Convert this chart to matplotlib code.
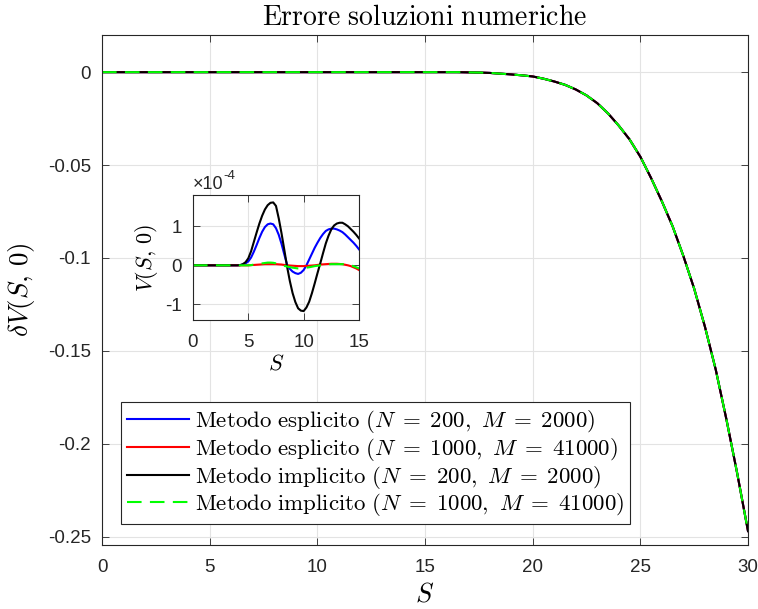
import matplotlib
matplotlib.use("Agg")
import matplotlib.pyplot as plt

plt.rcParams['font.family'] = ['Liberation Sans', 'DejaVu Sans']
plt.rcParams['mathtext.fontset'] = 'cm'
plt.rcParams['axes.unicode_minus'] = False

# main curve (all four methods coincide at this scale)
S_main = [0, 16.5, 17, 17.5, 18, 18.5, 19, 19.5, 20, 20.5, 21, 21.5, 22, 22.5,
          23, 23.5, 24, 24.5, 25, 25.5, 26, 26.5, 27, 27.5, 28, 28.5, 29, 29.5, 30]
dV_main = [0, 0, -0.0001, -0.0002, -0.0004, -0.0008, -0.0012, -0.0017, -0.0023,
           -0.0035, -0.005, -0.0068, -0.0093, -0.0125, -0.0167, -0.0222, -0.0288,
           -0.0362, -0.0455, -0.057, -0.0695, -0.083, -0.099, -0.1165, -0.137,
           -0.16, -0.187, -0.216, -0.247]

# inset: zoom on S in [0, 15], values in units of 1e-4
S_ins = [0, 4, 4.25, 4.5, 4.75, 5, 5.25, 5.5, 5.75, 6, 6.25, 6.5, 6.75, 7, 7.25,
         7.5, 7.75, 8, 8.25, 8.5, 8.75, 9, 9.25, 9.5, 9.75, 10, 10.25, 10.5,
         10.75, 11, 11.25, 11.5, 11.75, 12, 12.25, 12.5, 12.75, 13, 13.25, 13.5,
         13.75, 14, 14.25, 14.5, 14.75, 15]
esp_200 = [0, 0, 0.005, 0.02, 0.05, 0.1, 0.2, 0.35, 0.52, 0.7, 0.86, 0.98, 1.05,
           1.07, 1.05, 0.95, 0.78, 0.55, 0.28, 0.02, -0.09, -0.16, -0.2, -0.22,
           -0.19, -0.12, 0.0, 0.15, 0.3, 0.45, 0.58, 0.7, 0.8, 0.88, 0.92, 0.94,
           0.94, 0.92, 0.89, 0.85, 0.79, 0.72, 0.65, 0.58, 0.5, 0.41]
esp_1000 = [0, 0, 0, 0, 0, 0, 0.005, 0.01, 0.015, 0.02, 0.025, 0.03, 0.03, 0.03,
            0.03, 0.03, 0.025, 0.02, 0.01, 0.0, -0.005, -0.01, -0.015, -0.02,
            -0.02, -0.02, -0.015, -0.01, -0.005, 0.0, 0.01, 0.02, 0.025, 0.03,
            0.035, 0.04, 0.04, 0.04, 0.035, 0.03, 0.015, 0.0, -0.02, -0.05,
            -0.08, -0.12]
imp_200 = [0, 0, 0.005, 0.03, 0.08, 0.18, 0.36, 0.6, 0.84, 1.07, 1.27, 1.43, 1.54,
           1.6, 1.61, 1.52, 1.2, 0.82, 0.4, -0.03, -0.4, -0.71, -0.94, -1.1,
           -1.16, -1.17, -1.08, -0.93, -0.71, -0.46, -0.2, 0.05, 0.31, 0.56, 0.76,
           0.92, 1.02, 1.07, 1.09, 1.09, 1.05, 1.0, 0.93, 0.86, 0.78, 0.69]
imp_1000 = [0, 0, 0, 0, 0, 0, 0.005, 0.02, 0.03, 0.04, 0.05, 0.06, 0.07, 0.07,
            0.065, 0.05, 0.03, 0.0, -0.015, -0.03, -0.045, -0.06, -0.07, -0.08,
            -0.08, -0.07, -0.06, -0.05, -0.035, -0.02, -0.01, 0.0, 0.01, 0.02,
            0.025, 0.03, 0.03, 0.03, 0.03, 0.03, 0.025, 0.02, 0.0, -0.02, -0.05,
            -0.08]

labels = [r'$\mathrm{Metodo\ esplicito\ (}N\;=\;200,\ M\;=\;2000\mathrm{)}$',
          r'$\mathrm{Metodo\ esplicito\ (}N\;=\;1000,\ M\;=\;41000\mathrm{)}$',
          r'$\mathrm{Metodo\ implicito\ (}N\;=\;200,\ M\;=\;2000\mathrm{)}$',
          r'$\mathrm{Metodo\ implicito\ (}N\;=\;1000,\ M\;=\;41000\mathrm{)}$']
colors = ['#0000ff', '#ff0000', '#000000', '#00ff00']
inset_series = [esp_200, esp_1000, imp_200, imp_1000]

dark = '#262626'

def style(ax):
    ax.tick_params(direction='in', top=True, right=True, length=5,
                   width=0.6, colors=dark, labelsize=13.5, pad=8)
    ax.tick_params(axis='x', pad=10)
    for sp in ax.spines.values():
        sp.set_color(dark)
        sp.set_linewidth(0.8)
    ax.grid(True, color='#e3e3e3', linewidth=0.8)
    ax.set_axisbelow(True)

fig = plt.figure(figsize=(7.58, 6.09), dpi=100)
ax = fig.add_axes([0.1346, 0.1051, 0.8522, 0.8374])

for i in range(4):
    ls = '--' if i == 3 else '-'
    ax.plot(S_main, dV_main, color=colors[i], lw=1.5, linestyle=ls,
            dashes=(7, 4) if i == 3 else (None, None), label=labels[i])

ax.set_xlim(0, 30)
ax.set_ylim(-0.2545, 0.02)
ax.set_xticks([0, 5, 10, 15, 20, 25, 30])
ax.set_yticks([0, -0.05, -0.1, -0.15, -0.2, -0.25])
ax.set_yticklabels(['0', '-0.05', '-0.1', '-0.15', '-0.2', '-0.25'])
style(ax)
ax.set_xlabel(r'$S$', fontsize=19, labelpad=5)
ax.set_ylabel(r'$\delta V(S,\,0)$', fontsize=19.5, labelpad=8)
ax.set_title(r'$\mathrm{Errore\ soluzioni\ numeriche}$', fontsize=20, pad=7)

leg = ax.legend(loc='lower left', bbox_to_anchor=(0.160, 0.1396),
                bbox_transform=fig.transFigure, borderaxespad=0,
                fontsize=16.5, handlelength=2.7, handletextpad=0.25,
                labelspacing=0.03, borderpad=0.25, fancybox=False,
                framealpha=1, edgecolor=dark)
leg.get_frame().set_linewidth(0.8)

# inset
axi = fig.add_axes([0.2546, 0.4745, 0.219, 0.2053])
for i in range(4):
    ls = '--' if i == 3 else '-'
    axi.plot(S_ins, inset_series[i], color=colors[i], lw=1.5, linestyle=ls,
             dashes=(7, 4) if i == 3 else (None, None))
axi.set_xlim(0, 15)
axi.set_ylim(-1.4, 1.8)
axi.set_xticks([0, 5, 10, 15])
axi.set_yticks([-1, 0, 1])
style(axi)
axi.set_xlabel(r'$S$', fontsize=16, labelpad=2)
axi.set_ylabel(r'$V(S,\,0)$', fontsize=16, labelpad=4)
axi.text(0.0, 1.02, '\u00d710', transform=axi.transAxes, fontsize=13,
         color=dark, ha='left', va='bottom')
axi.text(0.185, 1.10, '-4', transform=axi.transAxes, fontsize=9.5,
         color=dark, ha='left', va='bottom')

fig.savefig('out.png', dpi=100)
